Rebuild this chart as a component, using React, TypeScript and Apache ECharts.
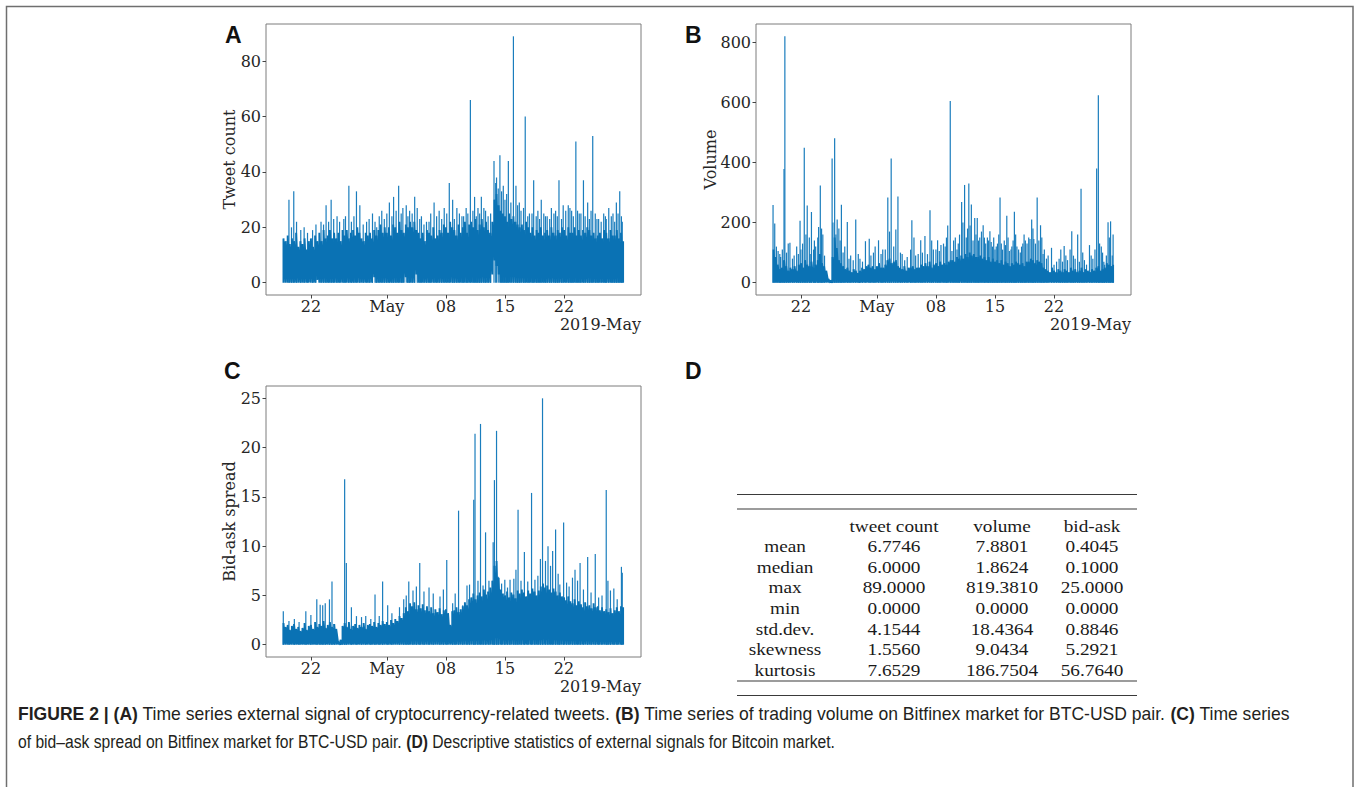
import React, { useEffect, useRef } from 'react';
import * as echarts from 'echarts';

// ---------------------------------------------------------------------------
// Time is measured in days counted from 1 April 2019 (22 = 22 Apr, 31 = 1 May,
// 59 = 29 May). The dense traces are kept as six-hour bins starting 18 Apr 18:00.
// ---------------------------------------------------------------------------
const BIN_START = 18.75;
const BIN_STEP = 0.25;
const DATA_FIRST = 18.7;
const DATA_LAST = 59.1;

const dateTicks = [22, 31, 38, 45, 52];
const dateTickLabels = ['22', 'May', '08', '15', '22'];
const dateOffsetLabel = '2019-May';

// (A) tweet count – six-hour bin level of the dense trace
const tweetBand = [
  16,
  15, 17, 14, 16, 15, 18, 13, 15, 14, 16, 12, 15, 16, 13, 17, 15, // Apr 19-22
  18, 15, 19, 16, 17, 19, 16, 18, 16, 18, 15, 19, 17, 19, 16, 18, // Apr 23-26
  19, 17, 20, 18, 16, 15, 18, 17, 18, 16, 19, 17, 19, 21, 18, 20, // Apr 27-30
  18, 20, 17, 21, 20, 18, 22, 19, 18, 21, 20, 22, 20, 22, 19, 18, // May 1-4
  16, 18, 15, 19, 18, 17, 20, 16, 17, 19, 18, 21, 20, 18, 22, 20, // May 5-8
  19, 17, 21, 18, 20, 22, 18, 21, 22, 20, 23, 19, 21, 23, 20, 22, // May 9-12
  19, 18, 22, 30, 32, 28, 26, 25, 24, 22, 25, 23, 24, 22, 21, 20, // May 13-16
  21, 19, 22, 20, 18, 20, 17, 19, 18, 20, 17, 18, 19, 17, 20, 18, // May 17-20
  17, 19, 18, 20, 19, 17, 20, 18, 18, 20, 17, 19, 17, 19, 18, 20, // May 21-24
  19, 17, 18, 16, 17, 18, 16, 19, 18, 16, 19, 17, 17, 19, 16, 18, // May 25-28
  15,
];
// bins where the trace never drops to zero
const tweetFloor: [number, number][] = [
  [22.75, 1], [29.5, 2], [33.25, 2], [34.5, 3],
  [43.5, 3], [43.75, 8], [44.0, 6], [44.25, 3],
];
const tweetSpikes: [number, number][] = [
  [19.4, 30], [19.97, 33], [20.3, 22], [21.2, 20], [22.6, 21], [23.2, 22], [23.8, 28],
  [24.4, 30], [25.1, 24], [25.9, 23], [26.5, 35], [27.4, 33], [27.8, 28], [28.6, 22],
  [29.3, 25], [29.8, 20], [30.4, 26], [31.3, 29], [31.8, 31], [32.4, 35], [32.9, 27],
  [33.3, 28], [33.7, 26], [34.3, 31], [35.1, 24], [35.7, 22], [36.2, 25], [36.6, 29],
  [37.2, 26], [37.8, 27], [38.4, 36], [38.8, 30], [39.3, 27], [39.9, 24], [40.4, 27],
  [40.9, 66], [41.4, 31], [41.8, 27], [42.2, 31], [42.7, 26], [43.7, 44], [44.0, 38],
  [44.4, 46], [44.8, 35], [45.4, 44], [46.0, 89], [46.3, 35], [46.7, 29], [47.4, 60],
  [47.9, 25], [48.4, 37], [48.9, 26], [49.3, 30], [49.8, 24], [50.5, 27], [51.0, 26],
  [51.4, 37], [51.9, 28], [52.5, 28], [52.9, 26], [53.4, 51], [53.8, 25], [54.3, 37],
  [54.8, 29], [55.4, 53], [55.9, 23], [56.4, 22], [56.9, 24], [57.3, 27], [57.8, 25],
  [58.2, 29], [58.6, 33], [58.9, 22],
  [19.7, 20], [20.8, 19], [21.6, 18], [22.2, 19], [23.5, 21], [24.1, 22], [24.7, 23],
  [25.4, 22], [26.1, 24], [26.8, 22], [27.1, 24], [28.2, 21], [28.9, 23], [29.6, 22],
  [30.1, 24], [30.7, 23], [31.0, 25], [31.6, 24], [32.1, 26], [32.7, 25], [33.5, 24],
  [34.0, 25], [34.6, 27], [34.9, 23], [35.4, 21], [36.0, 22], [36.9, 24], [37.5, 23],
  [38.1, 25], [39.0, 23], [39.6, 25], [40.1, 24], [40.6, 25], [41.2, 26], [41.6, 24],
  [42.0, 25], [42.5, 27], [43.0, 24], [43.3, 25], [43.9, 36], [44.2, 34], [44.6, 33],
  [45.0, 30], [45.2, 32], [45.7, 29], [46.5, 28], [46.9, 26], [47.2, 27], [47.7, 24],
  [48.2, 25], [48.7, 24], [49.1, 23], [49.6, 25], [50.0, 24], [50.3, 23], [50.8, 25],
  [51.2, 24], [51.7, 23], [52.2, 26], [52.7, 27], [53.1, 24], [53.6, 26], [54.0, 25],
  [54.5, 24], [55.0, 23], [55.2, 26], [55.7, 25], [56.1, 23], [56.7, 25], [57.0, 23],
  [57.6, 24], [58.0, 22], [58.4, 25], [58.8, 24],
];

// (B) trading volume
const volumeBand = [
  110,
  85, 60, 45, 50, 75, 55, 40, 50, 45, 55, 40, 60, 65, 50, 75, 60, // Apr 19-22
  55, 70, 50, 60, 75, 95, 65, 55, 40, 12, 8, 85, 150, 115, 75, 65, // Apr 23-26
  55, 45, 50, 40, 35, 45, 40, 32, 40, 50, 45, 55, 60, 50, 55, 45, // Apr 27-30
  55, 65, 50, 50, 60, 75, 80, 65, 70, 75, 55, 50, 45, 55, 40, 50, // May 1-4
  50, 55, 45, 50, 50, 60, 55, 65, 55, 70, 50, 60, 65, 55, 70, 60, // May 5-8
  65, 60, 70, 75, 75, 70, 85, 80, 90, 80, 95, 85, 100, 90, 95, 85, // May 9-12
  85, 90, 80, 85, 75, 85, 70, 80, 70, 75, 65, 75, 60, 70, 65, 55, // May 13-16
  65, 60, 70, 65, 60, 65, 55, 70, 70, 80, 75, 65, 75, 70, 65, 50, // May 17-20
  45, 40, 35, 50, 40, 35, 45, 40, 35, 45, 40, 35, 50, 40, 45, 35, // May 21-24
  40, 50, 35, 45, 40, 35, 45, 40, 50, 55, 40, 45, 50, 65, 60, 55, // May 25-28
  60,
];
const volumeSpikes: [number, number][] = [
  [18.7, 258], [18.9, 197], [19.3, 105], [19.6, 85], [20.0, 378], [20.1, 819.381],
  [20.5, 130], [20.7, 133], [21.2, 90], [21.5, 120], [21.9, 206], [22.2, 130], [22.4, 449],
  [22.75, 257], [23.0, 150], [23.25, 235], [23.5, 110], [23.75, 120], [24.1, 185],
  [24.3, 323], [24.6, 160], [25.7, 413], [26.0, 480], [26.3, 210], [26.5, 180], [26.8, 259],
  [27.2, 120], [27.5, 202], [27.9, 90], [28.5, 210], [29.0, 80], [29.65, 138], [30.1, 146],
  [30.6, 100], [31.2, 141], [31.7, 110], [32.3, 283], [32.7, 413], [33.0, 120], [33.25, 177],
  [33.5, 287], [34.0, 95], [34.6, 85], [35.15, 208], [35.6, 90], [36.2, 141], [36.7, 155],
  [37.3, 241], [37.7, 110], [38.2, 141], [38.6, 125], [39.1, 120], [39.4, 190], [39.7, 604],
  [40.1, 140], [40.5, 110], [40.8, 160], [41.05, 268], [41.4, 325], [41.6, 150], [41.9, 330],
  [42.2, 260], [42.4, 140], [42.6, 215], [42.9, 215], [43.2, 150], [43.6, 191], [43.9, 130],
  [44.1, 150], [44.4, 171], [44.7, 120], [45.0, 110], [45.3, 130], [45.6, 283], [45.9, 110],
  [46.1, 140], [46.4, 223], [46.7, 105], [47.0, 120], [47.3, 236], [47.6, 120], [48.0, 100],
  [48.3, 130], [48.6, 140], [49.0, 150], [49.35, 210], [49.6, 145], [49.8, 130], [50.0, 283],
  [50.2, 140], [50.4, 191], [50.7, 95], [51.3, 90], [51.7, 116], [52.3, 70], [52.8, 110],
  [53.2, 122], [53.6, 75], [54.1, 171], [54.5, 80], [54.8, 160], [55.2, 312], [55.6, 75],
  [56.2, 125], [56.6, 80], [57.05, 380], [57.25, 623], [57.6, 120], [57.9, 70], [58.2, 90],
  [58.4, 201], [58.7, 204], [59.0, 160],
  [19.1, 120], [19.5, 95], [19.8, 110], [20.3, 100], [21.0, 80], [21.7, 95], [22.0, 110],
  [22.6, 160], [23.1, 95], [23.6, 140], [24.0, 150], [24.45, 180], [24.8, 90], [25.8, 200],
  [26.15, 160], [26.65, 140], [27.0, 100], [27.7, 80], [28.2, 75], [28.8, 95], [29.3, 70],
  [30.3, 90], [30.8, 120], [31.5, 95], [32.0, 110], [32.5, 170], [33.8, 100], [34.3, 75],
  [35.0, 110], [35.4, 150], [35.9, 95], [36.4, 100], [37.0, 95], [37.5, 140], [38.0, 110],
  [38.4, 105], [38.9, 130], [39.25, 150], [39.9, 105], [40.3, 150], [40.65, 130], [41.2, 200],
  [41.75, 180], [42.05, 190], [42.75, 160], [43.05, 140], [43.4, 170], [43.75, 150],
  [44.25, 140], [44.55, 135], [44.85, 150], [45.15, 120], [45.45, 160], [45.75, 130],
  [46.25, 125], [46.55, 150], [46.9, 110], [47.15, 140], [47.45, 160], [47.8, 110],
  [48.15, 120], [48.45, 160], [48.8, 130], [49.15, 145], [49.5, 180], [50.55, 150],
  [50.85, 110], [51.1, 80], [52.0, 60], [52.6, 80], [53.0, 70], [53.4, 90], [53.9, 110],
  [54.3, 90], [55.0, 70], [55.4, 100], [55.85, 60], [56.4, 90], [56.85, 110], [57.4, 130],
  [57.75, 100], [58.0, 60], [58.55, 150], [58.9, 90],
];

// (C) bid-ask spread
const spreadBand = [
  2.2,
  1.8, 2.0, 1.5, 1.9, 2.1, 1.6, 1.8, 1.4, 1.7, 2.2, 1.5, 1.9, 2.0, 1.6, 2.3, 1.8, // Apr 19-22
  2.1, 1.9, 2.4, 1.7, 2.0, 2.3, 1.8, 2.1, 1.6, 0.3, 0.5, 1.9, 2.2, 1.8, 2.3, 1.6, // Apr 23-26
  1.9, 2.1, 1.7, 2.0, 1.8, 2.2, 1.6, 2.0, 2.1, 1.9, 2.3, 1.8, 2.2, 2.0, 2.4, 2.1, // Apr 27-30
  2.3, 2.0, 2.5, 2.2, 2.6, 2.4, 2.9, 2.7, 3.2, 3.8, 3.4, 4.2, 3.9, 4.3, 3.6, 4.0, // May 1-4
  3.7, 4.1, 3.5, 3.9, 3.4, 3.8, 3.2, 3.6, 3.3, 3.7, 3.1, 3.5, 3.6, 3.2, 2.0, 3.4, // May 5-8
  3.5, 3.8, 3.3, 3.6, 3.9, 4.3, 4.0, 4.6, 4.8, 5.2, 4.6, 5.0, 5.3, 4.9, 5.6, 5.1, // May 9-12
  5.4, 5.8, 6.5, 8.0, 8.5, 6.8, 5.6, 5.2, 5.0, 5.4, 4.8, 5.3, 5.1, 4.7, 5.5, 5.2, // May 13-16
  5.6, 5.3, 4.9, 5.5, 5.2, 5.7, 5.4, 5.0, 5.5, 5.9, 6.2, 5.8, 6.0, 5.6, 5.3, 5.7, // May 17-20
  5.4, 5.0, 5.3, 4.9, 4.8, 4.5, 4.9, 4.4, 4.2, 4.6, 4.0, 4.4, 4.1, 3.8, 4.3, 3.9, // May 21-24
  4.0, 3.7, 4.2, 3.8, 3.9, 3.5, 3.8, 3.4, 3.6, 3.3, 3.7, 3.2, 3.5, 3.8, 3.4, 3.9, // May 25-28
  3.8,
];
const spreadSpikes: [number, number][] = [
  [18.73, 3.4], [19.4, 2.4], [20.04, 2.6], [20.6, 2.3], [21.4, 3.4], [22.0, 3.0], [22.7, 4.6],
  [23.1, 4.05], [23.4, 4.0], [23.7, 4.2], [24.2, 4.6], [24.5, 6.4], [24.8, 2.1], [26.0, 16.8],
  [26.2, 8.3], [26.8, 3.8], [27.4, 2.9], [28.0, 2.8], [28.5, 2.9], [29.1, 2.6], [29.6, 5.1],
  [30.1, 2.9], [30.5, 6.4], [31.1, 4.0], [31.6, 3.2], [32.5, 3.8], [33.0, 4.6], [33.3, 5.0],
  [33.6, 6.4], [34.1, 5.5], [34.5, 5.9], [34.9, 8.3], [35.4, 5.4], [36.0, 5.8], [36.5, 5.2],
  [37.3, 4.9], [37.7, 5.6], [38.1, 8.6], [38.8, 4.2], [39.1, 5.2], [39.5, 13.6], [40.0, 4.0],
  [40.5, 6.0], [40.8, 6.1], [41.3, 14.7], [41.45, 21.4], [41.8, 6.5], [42.1, 22.4], [42.4, 6.0],
  [42.7, 11.4], [43.1, 6.5], [43.6, 10.4], [43.75, 16.7], [44.0, 21.7], [44.2, 6.9], [44.6, 6.2],
  [44.98, 6.6], [45.3, 5.8], [45.6, 6.6], [46.05, 6.7], [46.3, 7.6], [46.55, 13.7], [46.9, 6.5],
  [47.3, 9.4], [47.7, 6.4], [48.15, 15.4], [48.55, 6.6], [48.9, 7.0], [49.2, 8.7], [49.45, 25.0],
  [49.8, 8.5], [50.1, 10.0], [50.4, 8.0], [50.65, 9.5], [51.0, 11.7], [51.3, 7.2], [51.5, 6.1],
  [51.95, 12.4], [52.3, 6.3], [52.6, 5.9], [53.0, 6.8], [53.3, 7.6], [53.6, 6.5], [53.9, 8.3],
  [54.3, 5.6], [54.8, 8.9], [55.2, 5.3], [55.7, 9.2], [56.1, 4.8], [56.5, 5.0], [57.0, 15.7],
  [57.2, 6.5], [57.5, 5.5], [57.9, 5.7], [58.3, 4.6], [58.8, 7.9], [58.9, 7.3],
];

const tweetTicks = [0, 20, 40, 60, 80];
const volumeTicks = [0, 200, 400, 600, 800];
const spreadTicks = [0, 5, 10, 15, 20, 25];

// (D) descriptive statistics
const statNames = ['mean', 'median', 'max', 'min', 'std.dev.', 'skewness', 'kurtosis'];
const statColumns = ['tweet count', 'volume', 'bid-ask'];
const tweetStats = [6.7746, 6.0, 89.0, 0.0, 4.1544, 1.556, 7.6529];
const volumeStats = [7.8801, 1.8624, 819.381, 0.0, 18.4364, 9.0434, 186.7504];
const spreadStats = [0.4045, 0.1, 25.0, 0.0, 0.8846, 5.2921, 56.764];

const captionLine1: [string, boolean][] = [
  ['FIGURE 2 | (A)', true],
  [' Time series external signal of cryptocurrency-related tweets. ', false],
  ['(B)', true],
  [' Time series of trading volume on Bitfinex market for BTC-USD pair. ', false],
  ['(C)', true],
  [' Time series', false],
];
const captionLine2: [string, boolean][] = [
  ['of bid\u2013ask spread on Bitfinex market for BTC-USD pair. ', false],
  ['(D)', true],
  [' Descriptive statistics of external signals for Bitcoin market.', false],
];

// ---------------------------------------------------------------------------
const LINE_COLOR = '#0a72b4';
const SPIKE_COLOR = '#1a7dbd';
const SERIF = '"DejaVu Serif", serif';
const TABLE_FONT = '"Liberation Serif", serif';
const SANS = '"Liberation Sans", Arial, sans-serif';
const TEXT_COLOR = '#262626';

const X_PAD = 0.05 * (DATA_LAST - DATA_FIRST);
const X_MIN = DATA_FIRST - X_PAD;
const X_MAX = DATA_LAST + X_PAD;

function binTime(i: number) {
  return BIN_START + i * BIN_STEP;
}

// dense trace: each bin drawn as a vertical stroke from its floor to its level,
// joined to the next bin's floor, the way a minute-resolution line fills in.
function zigzag(band: number[], floor: [number, number][] = []) {
  const floorAt = new Map(floor.map(([t, v]) => [t.toFixed(2), v]));
  const pts: number[][] = [];
  band.forEach((v, i) => {
    const t = binTime(i);
    const lo = floorAt.get(t.toFixed(2)) ?? 0;
    pts.push([t, lo], [t, v]);
  });
  return pts;
}

function padRange(max: number) {
  const pad = 0.05 * max;
  return { min: -pad, max: max + pad };
}

function measureWidth(segments: [string, boolean][], size: number) {
  const ctx = document.createElement('canvas').getContext('2d');
  if (!ctx) return 1;
  let w = 0;
  for (const [s, bold] of segments) {
    ctx.font = `${bold ? 'bold ' : ''}${size}px ${SANS}`;
    w += ctx.measureText(s).width;
  }
  return w;
}

function richText(segments: [string, boolean][]) {
  return segments.map(([s, bold]) => `{${bold ? 'b' : 'n'}|${s}}`).join('');
}

const gridBoxes = [
  { left: 266, top: 24, width: 375, height: 271 },
  { left: 756, top: 24, width: 375, height: 271 },
  { left: 266, top: 386, width: 375, height: 271 },
];

export default function App() {
  const ref = useRef<HTMLDivElement>(null);

  useEffect(() => {
    if (!ref.current) return;
    const chart = echarts.init(ref.current, undefined, { renderer: 'svg' });

    const yRanges = [
      padRange(tweetStats[2]),
      padRange(volumeStats[2]),
      padRange(spreadStats[2]),
    ];
    const yTicks = [tweetTicks, volumeTicks, spreadTicks];
    const yNames = ['Tweet count', 'Volume', 'Bid-ask spread'];
    const yNameGaps = [29, 38, 29];

    const xAxis = gridBoxes.map((_, k) => ({
      type: 'value',
      gridIndex: k,
      min: X_MIN,
      max: X_MAX,
      splitLine: { show: false },
      axisLine: { show: false, onZero: false },
      axisTick: {
        show: true,
        length: 3.5,
        customValues: dateTicks,
        lineStyle: { color: '#444', width: 1 },
      },
      axisLabel: {
        customValues: dateTicks,
        formatter: (v: number) => dateTickLabels[dateTicks.indexOf(v)] ?? '',
        fontFamily: SERIF,
        fontSize: 16,
        color: TEXT_COLOR,
        margin: 3,
      },
    }));

    const yAxis = gridBoxes.map((_, k) => ({
      type: 'value',
      gridIndex: k,
      min: yRanges[k].min,
      max: yRanges[k].max,
      name: yNames[k],
      nameLocation: 'middle',
      nameGap: yNameGaps[k],
      nameMoveOverlap: false,
      nameTextStyle: { fontFamily: SERIF, fontSize: 16, color: TEXT_COLOR },
      splitLine: { show: false },
      axisLine: { show: false, onZero: false },
      axisTick: {
        show: true,
        length: 3.5,
        customValues: yTicks[k],
        lineStyle: { color: '#444', width: 1 },
      },
      axisLabel: {
        customValues: yTicks[k],
        formatter: (v: number) => String(v),
        fontFamily: SERIF,
        fontSize: 16,
        color: TEXT_COLOR,
        margin: 5,
      },
    }));

    const spikeSeries = (k: number, data: [number, number][]) => ({
      type: 'custom',
      xAxisIndex: k,
      yAxisIndex: k,
      clip: true,
      silent: true,
      data,
      renderItem: (_params: any, api: any) => {
        const t = api.value(0);
        const v = api.value(1);
        const p0 = api.coord([t, 0]);
        const p1 = api.coord([t, v]);
        return {
          type: 'line',
          shape: { x1: p0[0], y1: p0[1], x2: p1[0], y2: p1[1] },
          style: { stroke: SPIKE_COLOR, lineWidth: 1.2 },
        };
      },
    });

    const bandSeries = (k: number, data: number[][]) => ({
      type: 'line',
      xAxisIndex: k,
      yAxisIndex: k,
      data,
      showSymbol: false,
      symbol: 'none',
      silent: true,
      clip: true,
      lineStyle: { color: LINE_COLOR, width: 1.9, join: 'bevel' },
    });

    // caption, squeezed to the measured line widths
    const capSize = 18;
    const cap1Scale = 1272 / measureWidth(captionLine1, capSize);
    const cap2Scale = 817 / measureWidth(captionLine2, capSize);
    const capRich = {
      b: { fontFamily: SANS, fontSize: capSize, fontWeight: 'bold', fill: '#231f20' },
      n: { fontFamily: SANS, fontSize: capSize, fill: '#231f20' },
    };

    const graphic: any[] = [
      {
        type: 'rect',
        silent: true,
        shape: { x: 6.5, y: 6.5, width: 1346.5, height: 820 },
        style: { fill: 'none', stroke: '#6f6f6f', lineWidth: 1.5 },
      },
    ];

    // panel letters
    const letters: [string, number, number][] = [
      ['A', 225, 35], ['B', 685, 35], ['C', 224, 371], ['D', 685, 371],
    ];
    letters.forEach(([s, x, y]) =>
      graphic.push({
        type: 'text', x, y, silent: true,
        style: {
          text: s, fontFamily: SANS, fontSize: 23, fontWeight: 'bold', fill: '#111',
          align: 'left', verticalAlign: 'middle',
        },
      })
    );

    // date offset labels
    gridBoxes.forEach((g) =>
      graphic.push({
        type: 'text', x: g.left + g.width, y: g.top + g.height + 29, silent: true,
        style: {
          text: dateOffsetLabel, fontFamily: SERIF, fontSize: 16, fill: TEXT_COLOR,
          align: 'right', verticalAlign: 'middle',
        },
      })
    );

    // statistics table
    const tLeft = 737;
    const tRight = 1137;
    [494.5, 509, 681, 695.5].forEach((y) =>
      graphic.push({
        type: 'line', silent: true,
        shape: { x1: tLeft, y1: y, x2: tRight, y2: y },
        style: { stroke: '#3a3a3a', lineWidth: 1.2 },
      })
    );
    const colX = [785, 894, 1002, 1092];
    const headerY = 526;
    const rowY0 = 546.5;
    const rowStep = 20.6;
    const cell = (s: string, x: number, y: number) =>
      graphic.push({
        type: 'text', x, y, scaleX: 1.1, silent: true,
        style: {
          text: s, fontFamily: TABLE_FONT, fontSize: 17.5, fill: '#1a1a1a',
          align: 'center', verticalAlign: 'middle',
        },
      });
    statColumns.forEach((c, j) => cell(c, colX[j + 1], headerY));
    const statCols = [tweetStats, volumeStats, spreadStats];
    statNames.forEach((name, i) => {
      const y = rowY0 + i * rowStep;
      cell(name, colX[0], y);
      statCols.forEach((col, j) => cell(col[i].toFixed(4), colX[j + 1], y));
    });

    // caption
    graphic.push({
      type: 'text', x: 18, y: 714, scaleX: cap1Scale, silent: true,
      style: { text: richText(captionLine1), rich: capRich, align: 'left', verticalAlign: 'middle' },
    });
    graphic.push({
      type: 'text', x: 18, y: 742, scaleX: cap2Scale, silent: true,
      style: { text: richText(captionLine2), rich: capRich, align: 'left', verticalAlign: 'middle' },
    });

    chart.setOption({
      animation: false,
      backgroundColor: '#ffffff',
      grid: gridBoxes.map((g) => ({
        ...g,
        show: true,
        backgroundColor: 'transparent',
        borderColor: '#7d7d7d',
        borderWidth: 1,
        containLabel: false,
        outerBoundsMode: 'none',
      })),
      xAxis,
      yAxis,
      series: [
        bandSeries(0, zigzag(tweetBand, tweetFloor)),
        spikeSeries(0, tweetSpikes),
        bandSeries(1, zigzag(volumeBand)),
        spikeSeries(1, volumeSpikes),
        bandSeries(2, zigzag(spreadBand)),
        spikeSeries(2, spreadSpikes),
      ],
      graphic,
    } as any);

    return () => chart.dispose();
  }, []);

  return (
    <div
      ref={ref}
      style={{ position: 'fixed', left: 0, top: 0, width: 1356, height: 787, background: '#fff' }}
    />
  );
}
